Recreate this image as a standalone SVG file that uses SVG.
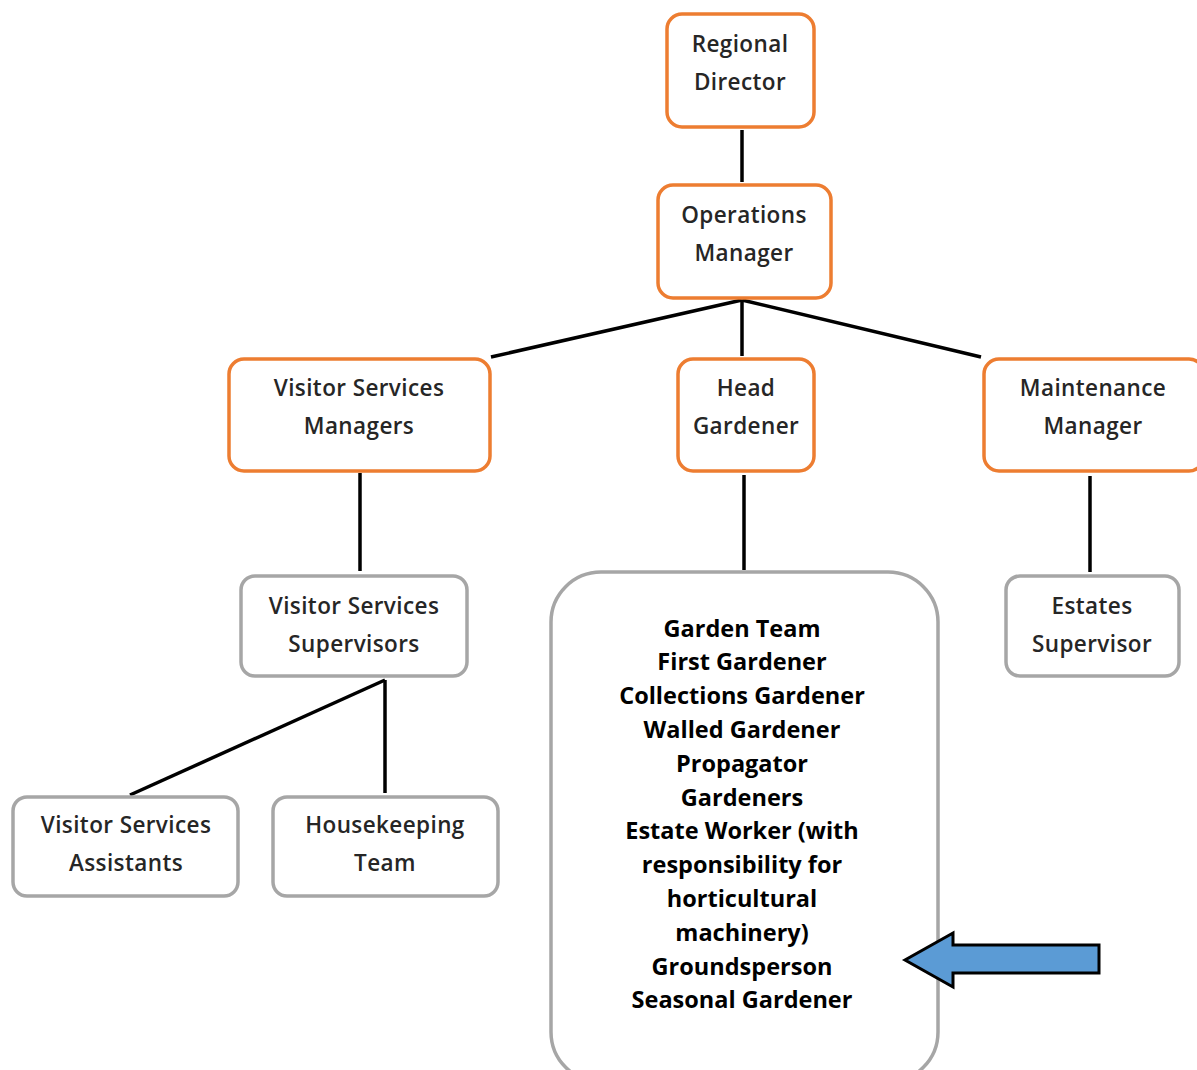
<svg xmlns="http://www.w3.org/2000/svg" width="1197" height="1070" viewBox="0 0 1197 1070">
<defs>
<style>
.o{fill:#fff;stroke:#ED7D31;stroke-width:3.5}
.g{fill:#fff;stroke:#A6A6A6;stroke-width:3.5}
.t{font-family:"Open Sans","Liberation Sans",sans-serif;font-size:22.5px;font-weight:600;letter-spacing:0.4px;fill:#262626;text-anchor:middle}
.b{font-family:"Open Sans","Liberation Sans",sans-serif;font-size:23.5px;font-weight:bold;fill:#000;text-anchor:middle}
.c{stroke:#000;stroke-width:3.5;fill:none}
</style>
</defs>
<rect width="1197" height="1070" fill="#fff"/>
<g id="connectors">
<line class="c" x1="742" y1="130" x2="742" y2="182"/>
<line class="c" x1="742" y1="300" x2="491" y2="357"/>
<line class="c" x1="742" y1="300" x2="742" y2="356"/>
<line class="c" x1="742" y1="300" x2="981" y2="357"/>
<line class="c" x1="360" y1="473" x2="360" y2="571"/>
<line class="c" x1="744" y1="475" x2="744" y2="570"/>
<line class="c" x1="1090" y1="476" x2="1090" y2="572"/>
<line class="c" x1="385" y1="680" x2="130" y2="795"/>
<line class="c" x1="385" y1="680" x2="385" y2="793"/>
</g>
<g id="regional-director">
<rect class="o" x="667" y="14" width="147" height="113" rx="15"/>
<text class="t" x="740" y="52">Regional</text>
<text class="t" x="740" y="90">Director</text>
</g>
<g id="operations-manager">
<rect class="o" x="658" y="185" width="173" height="113" rx="15"/>
<text class="t" x="744" y="223">Operations</text>
<text class="t" x="744" y="261">Manager</text>
</g>
<g id="visitor-services-managers">
<rect class="o" x="229" y="359" width="261" height="112" rx="15"/>
<text class="t" x="359" y="396">Visitor Services</text>
<text class="t" x="359" y="434">Managers</text>
</g>
<g id="head-gardener">
<rect class="o" x="678" y="359" width="136" height="112" rx="15"/>
<text class="t" x="746" y="396">Head</text>
<text class="t" x="746" y="434">Gardener</text>
</g>
<g id="maintenance-manager">
<rect class="o" x="984" y="359" width="220" height="112" rx="15"/>
<text class="t" x="1093" y="396">Maintenance</text>
<text class="t" x="1093" y="434">Manager</text>
</g>
<g id="visitor-services-supervisors">
<rect class="g" x="241" y="576" width="226" height="100" rx="14"/>
<text class="t" x="354" y="614">Visitor Services</text>
<text class="t" x="354" y="652">Supervisors</text>
</g>
<g id="estates-supervisor">
<rect class="g" x="1006" y="576" width="173" height="100" rx="14"/>
<text class="t" x="1092" y="614">Estates</text>
<text class="t" x="1092" y="652">Supervisor</text>
</g>
<g id="visitor-services-assistants">
<rect class="g" x="13" y="797" width="225" height="99" rx="14"/>
<text class="t" x="126" y="833">Visitor Services</text>
<text class="t" x="126" y="871">Assistants</text>
</g>
<g id="housekeeping-team">
<rect class="g" x="273" y="797" width="225" height="99" rx="14"/>
<text class="t" x="385" y="833">Housekeeping</text>
<text class="t" x="385" y="871">Team</text>
</g>
<g id="garden-team">
<rect class="g" x="551" y="572" width="387" height="510" rx="50"/>
<text class="b" x="742" y="637">Garden Team</text>
<text class="b" x="742" y="670">First Gardener</text>
<text class="b" x="742" y="704">Collections Gardener</text>
<text class="b" x="742" y="738">Walled Gardener</text>
<text class="b" x="742" y="772">Propagator</text>
<text class="b" x="742" y="806">Gardeners</text>
<text class="b" x="742" y="839">Estate Worker (with</text>
<text class="b" x="742" y="873">responsibility for</text>
<text class="b" x="742" y="907">horticultural</text>
<text class="b" x="742" y="941">machinery)</text>
<text class="b" x="742" y="975">Groundsperson</text>
<text class="b" x="742" y="1008">Seasonal Gardener</text>
</g>
<g id="arrow">
<path d="M1099,945 L953,945 L953,933 L905,960 L953,987 L953,973 L1099,973 Z" fill="#5B9BD5" stroke="#000" stroke-width="3" stroke-linejoin="miter"/>
</g>
</svg>
